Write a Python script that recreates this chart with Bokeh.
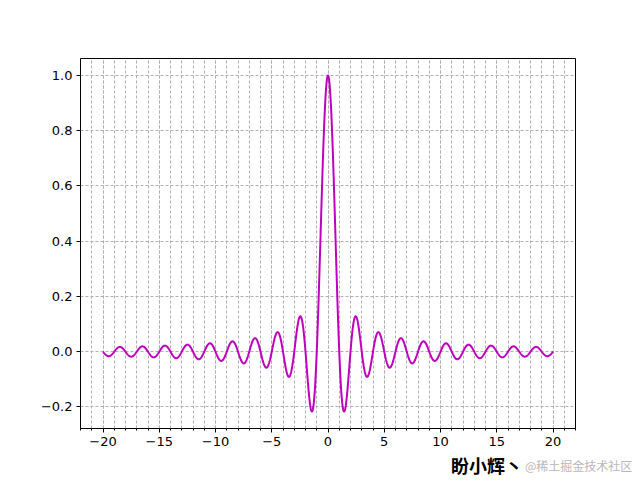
import numpy as np
from bokeh.plotting import figure
from bokeh.models import FixedTicker, Range1d, Div
from bokeh.layouts import column
from bokeh.embed import file_html
from bokeh.resources import INLINE

# data: normalized sinc curve sampled on [-20, 20]
x_start, x_end, n_points = -20, 20, 1000
x = np.linspace(x_start, x_end, n_points)
y = np.sinc(x)

x_ticks = [-20, -15, -10, -5, 0, 5, 10, 15, 20]
x_minor = list(range(-22, 23))
y_ticks = [-0.2, 0.0, 0.2, 0.4, 0.6, 0.8, 1.0]
y_labels = ["\u22120.2", "0.0", "0.2", "0.4", "0.6", "0.8", "1.0"]
author = "盼小辉丶"
site = "@稀土掘金技术社区"

p = figure(width=640, height=452, output_backend="svg", toolbar_location=None,
           x_range=Range1d(-22, 22), y_range=Range1d(-0.278, 1.061),
           min_border_left=80, min_border_right=65, min_border_top=58, min_border_bottom=24)
p.background_fill_color = "white"
p.border_fill_color = "white"
p.outline_line_color = "black"
p.outline_line_width = 1

p.line(x, y, line_color="#bf00bf", line_width=2)

p.xaxis.ticker = FixedTicker(ticks=x_ticks, minor_ticks=x_minor)
p.yaxis.ticker = FixedTicker(ticks=y_ticks, minor_ticks=[])
p.xaxis.major_label_overrides = {t: ("\u2212" + str(abs(t)) if t < 0 else str(t)) for t in x_ticks}
p.yaxis.major_label_overrides = dict(zip(y_ticks, y_labels))

for ax in (p.xaxis, p.yaxis):
    ax.axis_line_color = None
    ax.major_tick_line_color = "black"
    ax.minor_tick_line_color = "black"
    ax.major_tick_in = 0
    ax.major_tick_out = 4
    ax.minor_tick_in = 0
    ax.minor_tick_out = 2
    ax.major_label_text_font = "DejaVu Sans"
    ax.major_label_text_font_size = "13px"
    ax.major_label_text_color = "black"
    ax.major_label_standoff = 4

p.xgrid.grid_line_color = "#b0b0b0"
p.xgrid.grid_line_dash = "3 2"
p.xgrid.minor_grid_line_color = "#b0b0b0"
p.xgrid.minor_grid_line_dash = "3 2"
p.ygrid.grid_line_color = "#b0b0b0"
p.ygrid.grid_line_dash = "3 2"

html = (
    '<div style="position:relative;width:640px;height:36px;">'
    f'<span style="position:absolute;left:451px;top:1px;font-family:\'Noto Sans CJK SC\';'
    f'font-weight:bold;font-size:18px;color:#000;white-space:nowrap;">{author}</span>'
    f'<span style="position:absolute;left:525px;top:5px;font-family:\'Noto Sans CJK SC\';'
    f'font-size:12px;color:#b8b8b8;white-space:nowrap;">{site}</span>'
    '</div>'
)
div = Div(text=html, width=640, height=36, margin=(0, 0, 0, 0))

layout = column(p, div, spacing=0)
open("out.html", "w").write(file_html(layout, INLINE))
